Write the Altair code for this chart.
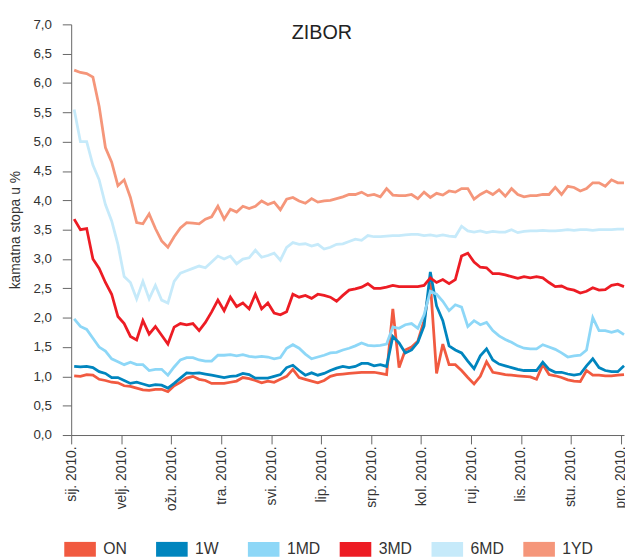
import altair as alt
import pandas as pd

MONTHS = ["sij.", "velj.", "ožu.", "tra.", "svi.", "lip.", "srp.", "kol.", "ruj.", "lis.", "stu.", "pro."]
SERIES = ["ON", "1W", "1MD", "3MD", "6MD", "1YD"]
COLORS = ["#F15A40", "#0085BE", "#8DD7F7", "#ED1C24", "#C6EAFA", "#F5967A"]

# sampling positions in months since 1 Jan 2010 (about every 4 days)
M = [round(0.06 + 0.125 * k, 4) for k in range(89)]

ON = [1.01, 1.00, 1.03, 1.02, 0.95, 0.93, 0.90, 0.89, 0.84, 0.83,
      0.80, 0.77, 0.76, 0.78, 0.78, 0.74, 0.84, 0.90, 0.97, 1.00,
      0.95, 0.93, 0.88, 0.88, 0.88, 0.90, 0.92, 0.98, 0.96, 0.93,
      0.89, 0.92, 0.90, 0.95, 1.00, 1.12, 0.98, 0.95, 0.92, 0.89,
      0.93, 1.00, 1.03, 1.04, 1.05, 1.06, 1.07, 1.07, 1.07, 1.05,
      1.03, 2.15, 1.15, 1.45, 1.50, 1.60, 1.95, 2.60, 1.05, 1.55,
      1.20, 1.20, 1.10, 0.98, 0.87, 1.00, 1.25, 1.07, 1.05, 1.03,
      1.02, 1.01, 1.00, 0.99, 0.95, 1.20, 1.03, 1.01, 0.98, 0.94,
      0.92, 0.91, 1.10, 1.02, 1.02, 1.01, 1.01, 1.02, 1.03]

W1 = [1.17, 1.16, 1.17, 1.15, 1.08, 1.05, 0.98, 0.98, 0.93, 0.88,
      0.90, 0.87, 0.84, 0.86, 0.85, 0.80, 0.88, 0.97, 1.06, 1.05,
      1.06, 1.04, 1.02, 1.00, 0.98, 1.00, 1.01, 1.05, 1.03, 0.97,
      0.97, 0.97, 1.00, 1.03, 1.15, 1.19, 1.10, 1.02, 1.06, 1.02,
      1.05, 1.10, 1.14, 1.17, 1.15, 1.17, 1.22, 1.22, 1.18, 1.20,
      1.17, 1.68, 1.57, 1.40, 1.45, 1.58, 1.86, 2.78, 2.20, 1.95,
      1.52, 1.45, 1.40, 1.26, 1.13, 1.35, 1.47, 1.28, 1.21, 1.18,
      1.15, 1.12, 1.10, 1.10, 1.10, 1.24, 1.12, 1.07, 1.07, 1.04,
      1.02, 1.04, 1.18, 1.30, 1.15, 1.10, 1.08, 1.08, 1.18]

MD1 = [1.98, 1.85, 1.80, 1.65, 1.50, 1.43, 1.30, 1.25, 1.20, 1.24,
       1.20, 1.20, 1.10, 1.12, 1.12, 1.02, 1.16, 1.28, 1.32, 1.32,
       1.28, 1.26, 1.26, 1.36, 1.36, 1.37, 1.35, 1.37, 1.34, 1.33,
       1.34, 1.33, 1.30, 1.32, 1.48, 1.54, 1.48, 1.38, 1.30, 1.33,
       1.36, 1.40, 1.41, 1.45, 1.48, 1.52, 1.57, 1.53, 1.52, 1.53,
       1.55, 1.84, 1.82, 1.88, 1.90, 1.82, 2.05, 2.45, 2.40, 2.28,
       2.12, 2.22, 2.18, 1.85, 1.95, 1.88, 1.92, 1.78, 1.69, 1.63,
       1.58, 1.52, 1.48, 1.47, 1.47, 1.54, 1.50, 1.46, 1.40, 1.33,
       1.35, 1.36, 1.45, 2.00, 1.78, 1.78, 1.75, 1.78, 1.71]

MD3 = [3.68, 3.50, 3.52, 3.00, 2.84, 2.60, 2.40, 2.02, 1.90, 1.68,
       1.62, 1.95, 1.72, 1.85, 1.70, 1.55, 1.84, 1.90, 1.88, 1.90,
       1.78, 1.92, 2.10, 2.30, 2.12, 2.35, 2.19, 2.25, 2.15, 2.40,
       2.15, 2.25, 2.08, 2.05, 2.10, 2.40, 2.35, 2.38, 2.33, 2.40,
       2.38, 2.35, 2.28, 2.38, 2.47, 2.49, 2.52, 2.58, 2.50, 2.50,
       2.52, 2.55, 2.53, 2.53, 2.53, 2.53, 2.55, 2.68, 2.60, 2.65,
       2.58, 2.65, 3.05, 3.10, 2.95, 2.86, 2.85, 2.75, 2.75, 2.73,
       2.70, 2.67, 2.70, 2.68, 2.70, 2.68, 2.60, 2.53, 2.54, 2.49,
       2.47, 2.42, 2.45, 2.51, 2.47, 2.48, 2.55, 2.57, 2.53]

MD6 = [5.55, 5.00, 5.00, 4.60, 4.35, 3.93, 3.65, 3.25, 2.70, 2.60,
       2.32, 2.62, 2.32, 2.55, 2.30, 2.25, 2.62, 2.76, 2.80, 2.84,
       2.88, 2.85, 2.95, 3.05, 3.00, 3.05, 2.92, 3.00, 3.02, 3.15,
       3.03, 3.06, 3.10, 2.98, 3.20, 3.28, 3.25, 3.26, 3.22, 3.25,
       3.17, 3.20, 3.25, 3.26, 3.30, 3.34, 3.32, 3.40, 3.38, 3.38,
       3.39, 3.40, 3.40, 3.41, 3.42, 3.42, 3.40, 3.41, 3.39, 3.41,
       3.39, 3.38, 3.56, 3.48, 3.46, 3.48, 3.45, 3.47, 3.46, 3.46,
       3.50, 3.45, 3.47, 3.48, 3.48, 3.49, 3.48, 3.48, 3.49, 3.50,
       3.49, 3.50, 3.50, 3.49, 3.50, 3.50, 3.50, 3.51, 3.51]

YD1 = [6.22, 6.18, 6.16, 6.10, 5.60, 4.90, 4.65, 4.25, 4.35, 4.05,
       3.62, 3.60, 3.77, 3.52, 3.31, 3.20, 3.38, 3.53, 3.62, 3.61,
       3.60, 3.68, 3.72, 3.90, 3.68, 3.85, 3.80, 3.90, 3.86, 3.90,
       3.99, 3.93, 3.97, 3.84, 4.02, 4.05, 3.99, 3.95, 4.03, 3.97,
       3.99, 4.00, 4.03, 4.06, 4.10, 4.10, 4.14, 4.08, 4.10, 4.06,
       4.20, 4.09, 4.08, 4.08, 4.10, 4.03, 4.14, 4.05, 4.12, 4.09,
       4.16, 4.14, 4.20, 4.20, 4.02, 4.10, 4.16, 4.10, 4.18, 4.07,
       4.20, 4.10, 4.06, 4.08, 4.08, 4.10, 4.10, 4.22, 4.10, 4.24,
       4.22, 4.16, 4.20, 4.30, 4.30, 4.24, 4.35, 4.30, 4.30]

VALUES = [ON, W1, MD1, MD3, MD6, YD1]
Y_TICKS = [0.0, 0.5, 1.0, 1.5, 2.0, 2.5, 3.0, 3.5, 4.0, 4.5, 5.0, 5.5, 6.0, 6.5, 7.0]

rows = []
for i, (name, vals) in enumerate(zip(SERIES, VALUES)):
    for m, v in zip(M, vals):
        rows.append({"m": m, "v": v, "s": name, "o": i})
df = pd.DataFrame(rows)

FONT = "Liberation Sans"
month_expr = "[" + ",".join("'" + mo + " 2010.'" for mo in MONTHS) + "][datum.value]"

chart = alt.Chart(df).mark_line(strokeWidth=2.8).encode(
    x=alt.X("m:Q",
            scale=alt.Scale(domain=[0, 11.06], nice=False, zero=False),
            axis=alt.Axis(values=list(range(12)), labelExpr=month_expr, labelAngle=270,
                          labelFontSize=14, labelFont=FONT, labelColor="#333",
                          labelPadding=2, tickSize=9, tickColor="#666", domainColor="#666",
                          grid=False, title=None, labelOverlap=False)),
    y=alt.Y("v:Q",
            scale=alt.Scale(domain=[0, 7], nice=False),
            axis=alt.Axis(values=Y_TICKS, labelExpr="replace(format(datum.value, '.1f'), '.', ',')",
                          labelFontSize=13.5, labelFont=FONT, labelColor="#333",
                          labelPadding=11, tickSize=9, tickColor="#666", domainColor="#666",
                          grid=False, title="kamatna stopa u %", titleFont=FONT,
                          titleFontSize=14, titleFontWeight="normal", titleColor="#333",
                          titleAngle=270, titleX=-56, titleY=208, titleAlign="center",
                          titleBaseline="middle", labelOverlap=False)),
    color=alt.Color("s:N", scale=alt.Scale(domain=SERIES, range=COLORS),
                    legend=alt.Legend(title=None, orient="none", legendX=-14.5, legendY=508,
                                      direction="horizontal", columns=6, gridAlign="all",
                                      columnPadding=-11, symbolType="M-1,0H1", symbolSize=1024,
                                      symbolStrokeWidth=15, labelFontSize=16, labelFont=FONT,
                                      labelColor="#333", labelOffset=0)),
    detail="o:O",
).properties(
    width=560, height=416,
    title=alt.TitleParams(text="ZIBOR", fontSize=20, fontWeight="normal", font=FONT,
                          color="#222", anchor="middle", dx=-26, dy=23.5, offset=-18,
                          baseline="alphabetic"),
    autosize=alt.AutoSizeParams(type="none"),
    padding={"left": 64, "top": 13, "right": 1, "bottom": 122},
).configure_view(strokeWidth=0)

chart.save("out.html", embed_options={"renderer": "svg", "actions": False})
